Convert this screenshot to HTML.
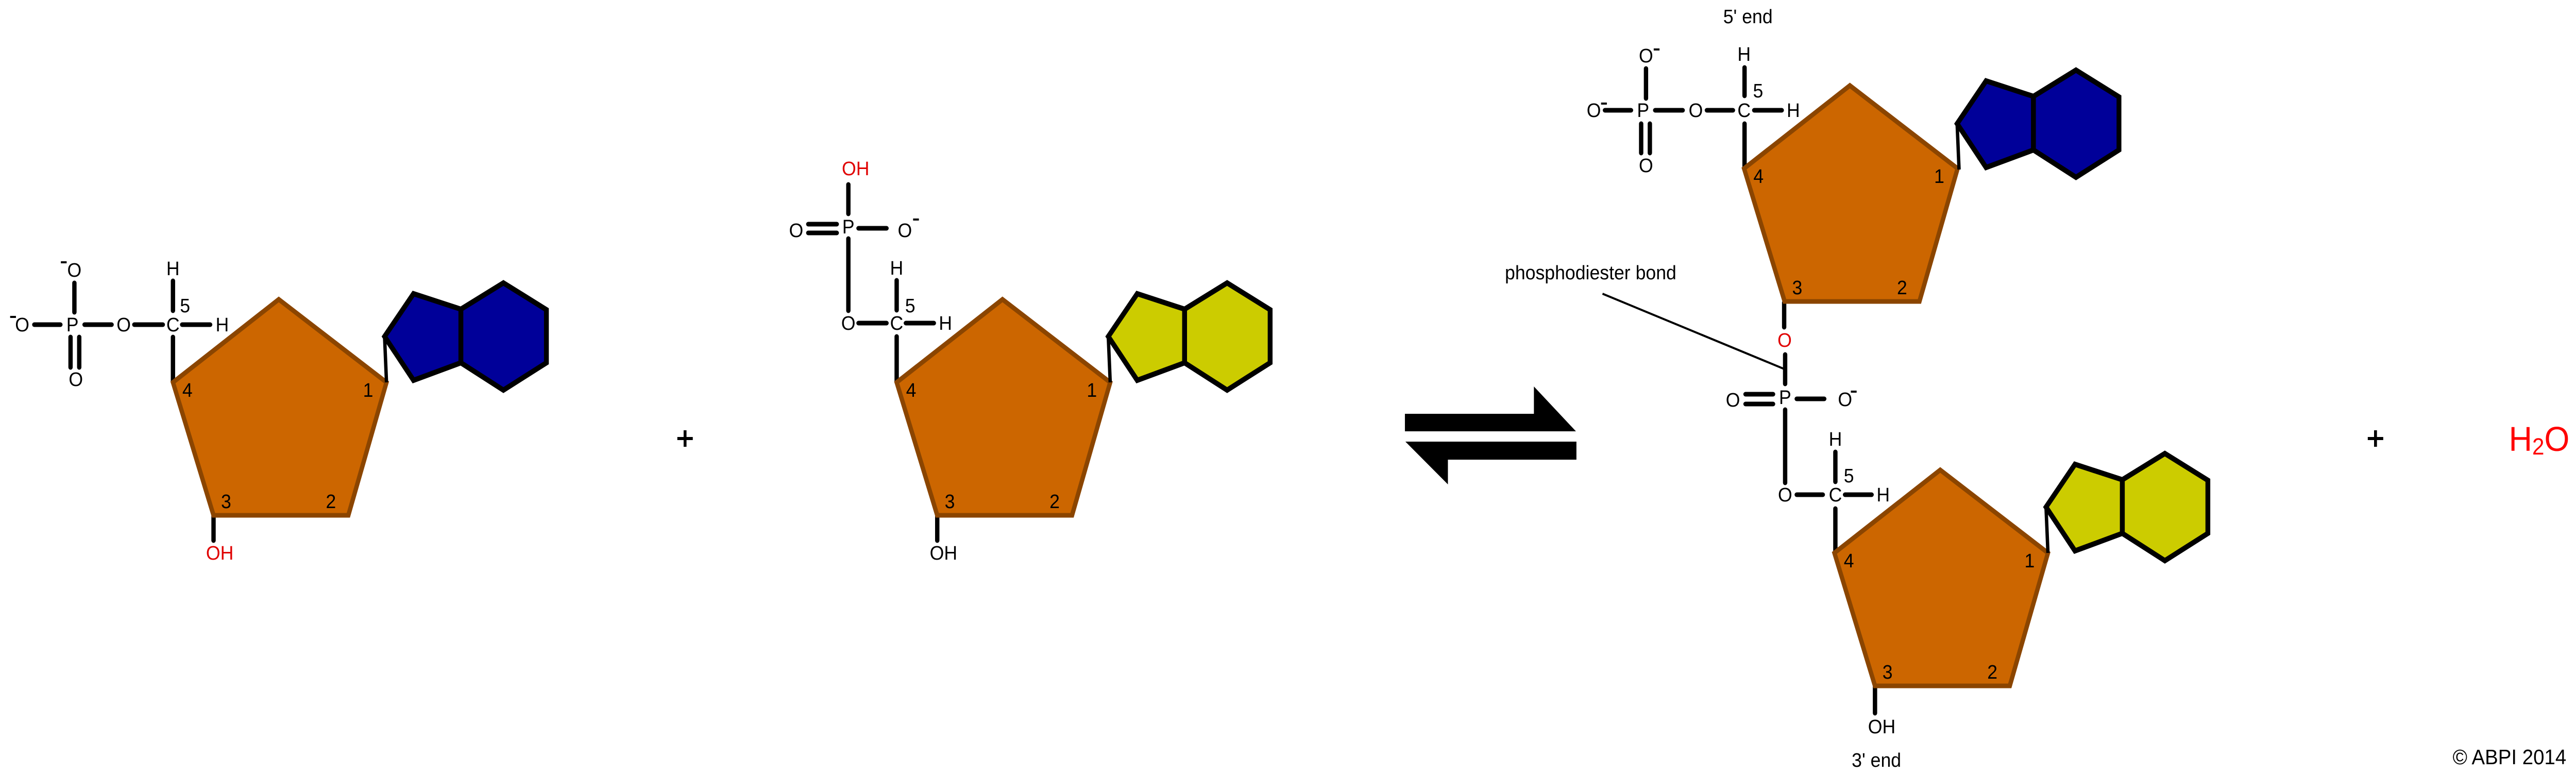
<!DOCTYPE html>
<html><head><meta charset="utf-8"><style>
html,body{margin:0;padding:0;background:#fff;overflow:hidden;width:100%;height:100%;}
svg{display:block;width:100vw;height:100vh;}
text{font-family:"Liberation Sans",Arial,sans-serif;}
</style></head><body>
<svg viewBox="0 0 5332 1502" preserveAspectRatio="none" xmlns="http://www.w3.org/2000/svg">
<defs>
<g id="sugar">
<polygon points="0,0 219,-161 442,0 363,258 84,258" fill="#CC6600" stroke="#8B4500" stroke-width="9" stroke-linejoin="miter"/>
<g font-size="38" text-anchor="middle" dominant-baseline="central" fill="#000">
<text x="30" y="15">4</text><text x="404" y="15">1</text><text x="110" y="231">3</text><text x="327" y="231">2</text>
</g>
</g>
</defs>
<g stroke="#000" stroke-width="9" stroke-linecap="round" fill="none">
<line x1="71" y1="630" x2="125" y2="630"/><line x1="175" y1="630" x2="231" y2="630"/>
<line x1="278" y1="630" x2="337" y2="630"/><line x1="377" y1="630" x2="435" y2="630"/>
<line x1="154" y1="549" x2="154" y2="606"/>
<line x1="146" y1="654" x2="146" y2="713"/><line x1="164" y1="654" x2="164" y2="713"/>
<line x1="358" y1="545" x2="358" y2="603"/><line x1="358" y1="654" x2="358" y2="742"/>
<line x1="442" y1="1000" x2="442" y2="1049"/>
<line x1="1756" y1="358" x2="1756" y2="415"/>
<line x1="1673" y1="435" x2="1732" y2="435"/><line x1="1673" y1="452" x2="1732" y2="452"/>
<line x1="1777" y1="443" x2="1835" y2="443"/>
<line x1="1756" y1="463" x2="1756" y2="603"/>
<line x1="1777" y1="627" x2="1835" y2="627"/><line x1="1875" y1="627" x2="1933" y2="627"/>
<line x1="1856" y1="544" x2="1856" y2="602"/><line x1="1856" y1="653" x2="1856" y2="742"/>
<line x1="1940" y1="1000" x2="1940" y2="1049"/>
<line x1="3407" y1="133" x2="3407" y2="191"/>
<line x1="3322" y1="214" x2="3376" y2="214"/><line x1="3426" y1="214" x2="3483" y2="214"/>
<line x1="3533" y1="214" x2="3587" y2="214"/><line x1="3631" y1="214" x2="3688" y2="214"/>
<line x1="3397" y1="240" x2="3397" y2="297"/><line x1="3415" y1="240" x2="3415" y2="297"/>
<line x1="3611" y1="131" x2="3611" y2="186"/><line x1="3611" y1="240" x2="3611" y2="327"/>
<line x1="3693" y1="587" x2="3693" y2="635"/>
<line x1="3695" y1="688" x2="3695" y2="745"/>
<line x1="3613" y1="765" x2="3670" y2="765"/><line x1="3613" y1="784" x2="3670" y2="784"/>
<line x1="3719" y1="774" x2="3776" y2="774"/>
<line x1="3695" y1="795" x2="3695" y2="937"/>
<line x1="3719" y1="960" x2="3773" y2="960"/><line x1="3819" y1="960" x2="3874" y2="960"/>
<line x1="3799" y1="877" x2="3799" y2="935"/><line x1="3799" y1="987" x2="3799" y2="1073"/>
<line x1="3881" y1="1331" x2="3881" y2="1384"/>
</g>
<line x1="3317" y1="570" x2="3693" y2="716" stroke="#000" stroke-width="4"/>
<use href="#sugar" x="358" y="742"/>
<use href="#sugar" x="1856" y="742"/>
<use href="#sugar" x="3610" y="327"/>
<use href="#sugar" x="3797" y="1073"/>
<g stroke="#000" stroke-width="10" stroke-linejoin="miter">
<g transform="translate(800,742)"><line x1="0" y1="0" x2="-4" y2="-89" stroke-width="7"/><polygon points="-4,-89 56,-172 154,-142 154,-38 56,-4" fill="#000099"/><polygon points="154,-142 242,-193 331,-141 331,-38 242,15 154,-38" fill="#000099"/></g>
<g transform="translate(2298,742)"><line x1="0" y1="0" x2="-4" y2="-89" stroke-width="7"/><polygon points="-4,-89 56,-172 154,-142 154,-38 56,-4" fill="#CCCC00"/><polygon points="154,-142 242,-193 331,-141 331,-38 242,15 154,-38" fill="#CCCC00"/></g>
<g transform="translate(4055,329)"><line x1="0" y1="0" x2="-4" y2="-89" stroke-width="7"/><polygon points="-4,-89 56,-172 154,-142 154,-38 56,-4" fill="#000099"/><polygon points="154,-142 242,-193 331,-141 331,-38 242,15 154,-38" fill="#000099"/></g>
<g transform="translate(4239,1073)"><line x1="0" y1="0" x2="-4" y2="-89" stroke-width="7"/><polygon points="-4,-89 56,-172 154,-142 154,-38 56,-4" fill="#CCCC00"/><polygon points="154,-142 242,-193 331,-141 331,-38 242,15 154,-38" fill="#CCCC00"/></g>
</g>
<g font-size="38" text-anchor="middle" dominant-baseline="central" fill="#000">
<text x="46" y="630">O</text><text x="150" y="630">P</text><text x="256" y="630">O</text><text x="358" y="630">C</text><text x="460" y="630">H</text>
<text x="154" y="524">O</text><text x="157" y="736">O</text><text x="358" y="521">H</text><text x="383" y="593">5</text>
<text x="455" y="1073" fill="#E00000">OH</text>
<text x="1771" y="327" fill="#E00000">OH</text>
<text x="1756" y="440">P</text><text x="1648" y="447">O</text><text x="1873" y="447">O</text>
<text x="1756" y="627">O</text><text x="1856" y="627">C</text><text x="1957" y="627">H</text>
<text x="1856" y="520">H</text><text x="1884" y="593">5</text>
<text x="1953" y="1073">OH</text>
<text x="3618" y="32">5' end</text>
<text x="3407" y="108">O</text><text x="3299" y="214">O</text><text x="3401" y="214">P</text><text x="3510" y="214">O</text><text x="3610" y="214">C</text><text x="3712" y="214">H</text>
<text x="3407" y="321">O</text><text x="3610" y="105">H</text><text x="3639" y="176">5</text>
<text x="3694" y="660" fill="#E00000">O</text>
<text x="3695" y="771">P</text><text x="3587" y="776">O</text><text x="3819" y="775">O</text>
<text x="3695" y="960">O</text><text x="3799" y="960">C</text><text x="3898" y="960">H</text>
<text x="3799" y="852">H</text><text x="3827" y="923">5</text>
<text x="3895" y="1410">OH</text>
<text x="3884" y="1475">3' end</text>
<text x="3115" y="529" text-anchor="start">phosphodiester bond</text>
</g>
<g fill="#000">
<rect x="126" y="507" width="12" height="4"/><rect x="21" y="613" width="12" height="4"/>
<rect x="1890" y="424" width="12" height="4"/>
<rect x="3423" y="94" width="12" height="4"/><rect x="3314" y="199" width="12" height="4"/>
<rect x="3831" y="758" width="12" height="4"/>
<rect x="1402" y="848" width="32" height="6"/><rect x="1415" y="835" width="6" height="32"/>
<rect x="4901" y="848" width="32" height="6"/><rect x="4914" y="835" width="6" height="32"/>
<polygon points="2908,803 3175,803 3175,750 3262,837 2908,837"/>
<polygon points="2909,857 3263,857 3263,892 2997,892 2997,940"/>
</g>
<text x="5193" y="875" font-size="67" fill="#FF0000">H<tspan font-size="45" dy="7">2</tspan><tspan dy="-7">O</tspan></text>
<text x="5312" y="1483" font-size="41" fill="#000" text-anchor="end">© ABPI 2014</text>
</svg>
</body></html>
